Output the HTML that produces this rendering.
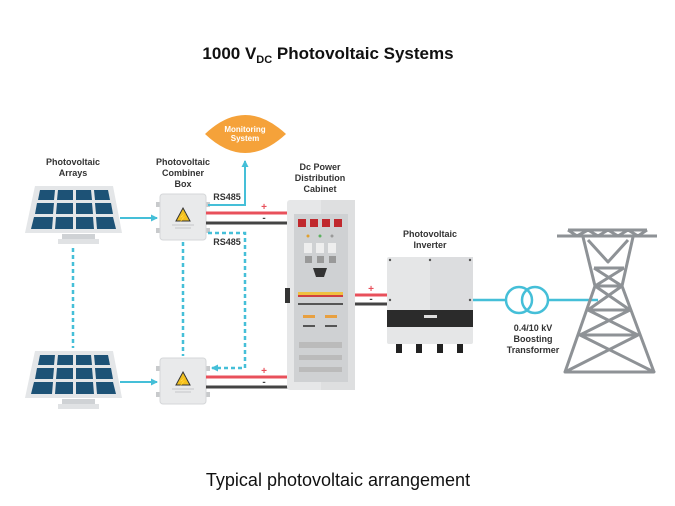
<!DOCTYPE html>
<html><head><meta charset="utf-8"><style>
html,body{margin:0;padding:0;background:#fff}
svg{display:block}
text{font-family:"Liberation Sans",sans-serif}
</style></head><body>
<svg width="675" height="506" viewBox="0 0 675 506" xmlns="http://www.w3.org/2000/svg">
<defs>
<g id="panel">
  <polygon points="35,0 113,0 122,47 25,47" fill="#e4e6e8"/>
  <g fill="#1d5276">
    <polygon points="40,4 55,4 54,14 38,14"/><polygon points="58,4 73,4 73,14 57,14"/><polygon points="76,4 91,4 92,14 76,14"/><polygon points="94,4 108,4 110,14 95,14"/>
    <polygon points="37,17 54,17 53,28 35,28"/><polygon points="57,17 73,17 73,28 56,28"/><polygon points="76,17 92,17 93,28 76,28"/><polygon points="95,17 111,17 113,28 96,28"/>
    <polygon points="34,31 53,31 52,43 31,43"/><polygon points="56,31 73,31 73,43 55,43"/><polygon points="76,31 93,31 94,43 76,43"/><polygon points="96,31 113,31 116,43 97,43"/>
  </g>
  <rect x="62" y="48" width="33" height="5" fill="#cfd2d5"/>
  <rect x="58" y="53" width="41" height="5" fill="#e0e2e4"/>
</g>
<g id="box">
  <rect x="-4" y="8" width="5" height="5" fill="#c8cacc"/><rect x="-4" y="34" width="5" height="5" fill="#c8cacc"/>
  <rect x="45" y="8" width="5" height="5" fill="#c8cacc"/><rect x="45" y="34" width="5" height="5" fill="#c8cacc"/>
  <rect x="0" y="0" width="46" height="46" rx="3" fill="#e9eaeb" stroke="#d5d7d9"/>
  <polygon points="23,14 30,27 16,27" fill="#f0c020" stroke="#333" stroke-width="1"/>
  <text x="23" y="26" font-size="8" text-anchor="middle" fill="#333">⚡</text>
  <line x1="12" y1="31" x2="34" y2="31" stroke="#c5c7c9"/><line x1="15" y1="34" x2="31" y2="34" stroke="#c5c7c9"/>
</g>
<marker id="ah" markerUnits="userSpaceOnUse" markerWidth="7" markerHeight="7" refX="6" refY="3.5" orient="auto"><path d="M0,0 L7,3.5 L0,7z" fill="#45bfd8"/></marker>
</defs>

<text x="328" y="59" font-size="17" font-weight="bold" text-anchor="middle" fill="#111">1000 V<tspan font-size="11" dy="4">DC</tspan><tspan dy="-4"> Photovoltaic Systems</tspan></text>

<path d="M205,134 Q245,96 286,134 Q245,172 205,134z" fill="#f5a23a"/>
<text x="245" y="132" font-size="8" font-weight="bold" fill="#fff" text-anchor="middle">Monitoring</text>
<text x="245" y="141" font-size="8" font-weight="bold" fill="#fff" text-anchor="middle">System</text>

<g font-size="9" font-weight="bold" fill="#333" text-anchor="middle">
<text x="73" y="165">Photovoltaic</text><text x="73" y="176">Arrays</text>
<text x="183" y="165">Photovoltaic</text><text x="183" y="176">Combiner</text><text x="183" y="187">Box</text>
<text x="320" y="170">Dc Power</text><text x="320" y="181">Distribution</text><text x="320" y="192">Cabinet</text>
<text x="430" y="237">Photovoltaic</text><text x="430" y="248">Inverter</text>
<text x="533" y="331">0.4/10 kV</text><text x="533" y="342">Boosting</text><text x="533" y="353">Transformer</text>
<text x="227" y="200">RS485</text><text x="227" y="245">RS485</text>
</g>

<use href="#panel" x="0" y="186"/>
<use href="#panel" x="0" y="351"/>
<use href="#box" x="160" y="194"/>
<use href="#box" x="160" y="358"/>

<g stroke="#45bfd8" stroke-width="2.5" fill="none">
<line x1="120" y1="218" x2="157" y2="218" marker-end="url(#ah)" stroke-width="2"/>
<line x1="120" y1="382" x2="157" y2="382" marker-end="url(#ah)" stroke-width="2"/>
<polyline points="208,205 245,205 245,161" marker-end="url(#ah)" stroke-width="2"/>
<g stroke-dasharray="4,3">
<line x1="73" y1="248" x2="73" y2="348"/>
<line x1="183" y1="242" x2="183" y2="356"/>
<polyline points="208,233 245,233 245,368 212,368" marker-end="url(#ah)"/>
</g>
<line x1="473" y1="300" x2="506" y2="300"/>
<circle cx="519" cy="300" r="13"/><circle cx="535" cy="300" r="13"/>
<line x1="548" y1="300" x2="598" y2="300"/>
</g>

<g stroke-width="3">
<line x1="206" y1="213" x2="288" y2="213" stroke="#e8505b"/><line x1="206" y1="223" x2="288" y2="223" stroke="#444"/>
<line x1="206" y1="377" x2="288" y2="377" stroke="#e8505b"/><line x1="206" y1="387" x2="288" y2="387" stroke="#444"/>
<line x1="354" y1="295" x2="388" y2="295" stroke="#e8505b"/><line x1="354" y1="304" x2="388" y2="304" stroke="#444"/>
</g>
<g font-size="10" font-weight="bold" fill="#e8505b" text-anchor="middle"><text x="264" y="210">+</text><text x="264" y="374">+</text><text x="371" y="292">+</text></g>
<g font-size="10" font-weight="bold" fill="#444" text-anchor="middle"><text x="264" y="221">-</text><text x="264" y="385">-</text><text x="371" y="302">-</text></g>

<rect x="287" y="200" width="68" height="190" rx="3" fill="#e6e7e8"/>
<rect x="321" y="200" width="34" height="190" fill="#dedfe0"/>
<rect x="294" y="214" width="54" height="168" fill="#cfd1d3"/>
<g fill="#c0282d"><rect x="298" y="219" width="8" height="8"/><rect x="310" y="219" width="8" height="8"/><rect x="322" y="219" width="8" height="8"/><rect x="334" y="219" width="8" height="8"/></g>
<circle cx="308" cy="236" r="1.5" fill="#e0a030"/><circle cx="320" cy="236" r="1.5" fill="#5cb060"/><circle cx="332" cy="236" r="1.5" fill="#999"/>
<g fill="#eee"><rect x="304" y="243" width="8" height="10"/><rect x="316" y="243" width="8" height="10"/><rect x="328" y="243" width="8" height="10"/></g>
<g fill="#999"><rect x="305" y="256" width="7" height="7"/><rect x="317" y="256" width="7" height="7"/><rect x="329" y="256" width="7" height="7"/></g>
<polygon points="313,268 327,268 324,277 316,277" fill="#333"/>
<rect x="285" y="288" width="5" height="15" fill="#333"/>
<rect x="298" y="292" width="45" height="3" fill="#f0c040"/><rect x="298" y="295" width="45" height="2" fill="#d04040"/>
<rect x="298" y="303" width="45" height="2" fill="#555"/>
<rect x="303" y="315" width="12" height="3" fill="#e8a040"/><rect x="325" y="315" width="12" height="3" fill="#e8a040"/>
<rect x="303" y="325" width="12" height="2" fill="#555"/><rect x="325" y="325" width="12" height="2" fill="#555"/>
<rect x="299" y="342" width="43" height="6" fill="#bbb"/><rect x="299" y="355" width="43" height="5" fill="#bbb"/><rect x="299" y="367" width="43" height="5" fill="#bbb"/>

<rect x="387" y="257" width="86" height="87" rx="2" fill="#e5e6e7"/>
<rect x="430" y="257" width="43" height="54" fill="#dcdddf"/>
<rect x="387" y="310" width="86" height="17" fill="#2b2b2b"/>
<rect x="424" y="315" width="13" height="3" fill="#ddd"/>
<g fill="#222"><rect x="396" y="344" width="6" height="9"/><rect x="416" y="344" width="6" height="9"/><rect x="437" y="344" width="6" height="9"/><rect x="457" y="344" width="6" height="9"/></g>
<g fill="#555"><circle cx="390" cy="260" r="1.2"/><circle cx="430" cy="260" r="1.2"/><circle cx="470" cy="260" r="1.2"/><circle cx="390" cy="300" r="1.2"/><circle cx="470" cy="300" r="1.2"/></g>

<g stroke="#8e9296" stroke-width="3" fill="none" stroke-linejoin="round">
<line x1="557" y1="236" x2="657" y2="236"/>
<line x1="568" y1="230" x2="647" y2="230"/>
<polyline points="568,230 577,236 588,230 598,236 608,230 618,236 628,230 638,236 647,230"/>
<polyline points="583,237 595,286 565,372"/>
<polyline points="633,237 622,286 654,372"/>
<polyline points="588,240 608,262 628,240"/>
<line x1="595" y1="286" x2="622" y2="286"/>
<line x1="594" y1="268" x2="624" y2="268"/>
<polyline points="594,268 622,286 595,286 624,268"/>
<line x1="588" y1="310" x2="630" y2="310"/>
<polyline points="595,286 630,310 588,310 622,286"/>
<line x1="580" y1="335" x2="638" y2="335"/>
<polyline points="588,310 638,335 580,335 630,310"/>
<polyline points="580,335 654,372 565,372 638,335"/>
</g>

<text x="338" y="486" font-size="18" text-anchor="middle" fill="#111">Typical photovoltaic arrangement</text>
</svg>
</body></html>
